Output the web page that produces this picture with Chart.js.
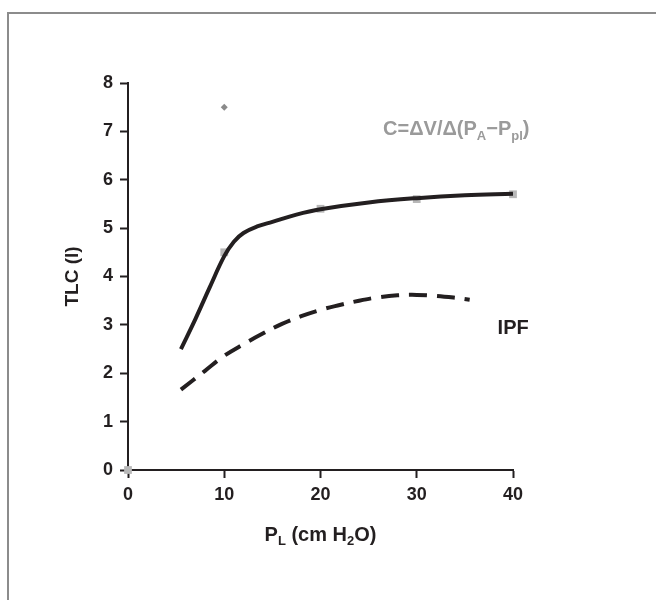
<!DOCTYPE html>
<html>
<head>
<meta charset="utf-8">
<script src="https://cdn.jsdelivr.net/npm/chart.js@4/dist/chart.umd.min.js"></script>
<style>
html,body{margin:0;padding:0;background:#fff;}
#wrap{position:relative;width:656px;height:600px;}
canvas{display:block;}
</style>
</head>
<body>
<div id="wrap"><canvas id="c" width="656" height="600"></canvas></div>
<script>
// ---- data ----
const xTicks = [0, 10, 20, 30, 40];
const yTicks = [0, 1, 2, 3, 4, 5, 6, 7, 8];
const normalX = [5.5, 7, 8.5, 10, 11, 12, 13.5, 15, 17.5, 20, 25, 30, 35, 40];
const normalY = [2.5, 3.12, 3.78, 4.42, 4.72, 4.9, 5.04, 5.13, 5.28, 5.39, 5.53, 5.62, 5.68, 5.71];
const ipfX = [5.5, 8, 10, 12, 14, 16, 18, 20, 22, 24, 26, 28, 30, 32, 34, 35.5];
const ipfY = [1.66, 2.05, 2.36, 2.6, 2.82, 3.02, 3.18, 3.31, 3.41, 3.5, 3.57, 3.61, 3.62, 3.6, 3.56, 3.52];
const measuredX = [0, 10, 20, 30, 40];
const measuredY = [0, 4.5, 5.4, 5.6, 5.7];
const outlierX = [10];
const outlierY = [7.5];

const toPts = (xs, ys) => xs.map((x, i) => ({x: x, y: ys[i]}));

const INK = '#231f20';
const FONT = '"Liberation Sans", Arial, Helvetica, sans-serif';

function drawRich(ctx, segs, x, y, size, align) {
  const fontFor = s => 'bold ' + (s[1] ? Math.round(size * 0.65) : size) + 'px ' + FONT;
  let total = 0;
  segs.forEach(s => { ctx.font = fontFor(s); total += ctx.measureText(s[0]).width; });
  let cx = align === 'center' ? x - total / 2 : x;
  ctx.textAlign = 'left';
  ctx.textBaseline = 'alphabetic';
  segs.forEach(s => {
    ctx.font = fontFor(s);
    ctx.fillText(s[0], cx, y + (s[1] ? size * 0.22 : 0));
    cx += ctx.measureText(s[0]).width;
  });
}

const decor = {
  id: 'decor',
  beforeDraw(chart) {
    const ctx = chart.ctx;
    ctx.save();
    ctx.strokeStyle = '#8c8c8c';
    ctx.lineWidth = 2;
    ctx.beginPath();
    ctx.moveTo(8, 600);
    ctx.lineTo(8, 13);
    ctx.lineTo(656, 13);
    ctx.stroke();
    ctx.restore();
  },
  afterDraw(chart) {
    const ctx = chart.ctx;
    const xs = chart.scales.x, ys = chart.scales.y;
    ctx.save();
    ctx.fillStyle = '#9a9a9a';
    drawRich(ctx, [['C=ΔV/Δ(P'], ['A', 1], ['−P'], ['pl', 1], [')']],
      xs.getPixelForValue(26.5), ys.getPixelForValue(6.92), 20, 'left');
    ctx.fillStyle = INK;
    drawRich(ctx, [['IPF']], xs.getPixelForValue(38.4), ys.getPixelForValue(2.81), 20, 'left');
    drawRich(ctx, [['P'], ['L', 1], [' (cm H'], ['2', 1], ['O)']],
      (xs.left + xs.right) / 2, 541, 20, 'center');
    ctx.translate(78, (ys.top + ys.bottom) / 2);
    ctx.rotate(-Math.PI / 2);
    drawRich(ctx, [['TLC (l)']], 0, 0, 19, 'center');
    ctx.restore();
  }
};

new Chart(document.getElementById('c'), {
  type: 'scatter',
  data: {
    datasets: [
      {
        label: 'normal',
        data: toPts(normalX, normalY),
        showLine: true,
        borderColor: INK,
        borderWidth: 4,
        pointRadius: 0,
        tension: 0.4,
        fill: false,
        order: 1
      },
      {
        label: 'IPF',
        data: toPts(ipfX, ipfY),
        showLine: true,
        borderColor: INK,
        borderWidth: 4,
        borderDash: [18, 10],
        pointRadius: 0,
        tension: 0.4,
        fill: false,
        order: 1
      },
      {
        label: 'measured',
        data: toPts(measuredX, measuredY),
        showLine: false,
        pointStyle: 'rect',
        pointRadius: 5.5,
        backgroundColor: '#b8b8b8',
        borderWidth: 0,
        order: 2
      },
      {
        label: 'outlier',
        data: toPts(outlierX, outlierY),
        showLine: false,
        pointStyle: 'rectRot',
        pointRadius: 3.5,
        backgroundColor: '#8a8a8a',
        borderWidth: 0,
        order: 2
      }
    ]
  },
  options: {
    responsive: false,
    animation: false,
    events: [],
    clip: false,
    layout: { padding: { left: 0, right: 143, top: 83, bottom: 90 } },
    plugins: { legend: { display: false }, tooltip: { enabled: false } },
    scales: {
      x: {
        type: 'linear', min: 0, max: 40,
        afterBuildTicks: s => { s.ticks = xTicks.map(v => ({value: v})); },
        afterFit: s => { s.height = 40; },
        grid: { display: true, drawOnChartArea: false, drawTicks: true, tickLength: 8, tickColor: INK, tickWidth: 2, color: INK },
        border: { display: true, color: INK, width: 2 },
        ticks: { color: INK, font: { family: FONT, size: 18, weight: 'bold' }, padding: 6, maxRotation: 0 }
      },
      y: {
        type: 'linear', min: 0, max: 8,
        afterBuildTicks: s => { s.ticks = yTicks.map(v => ({value: v})); },
        afterFit: s => { s.width = 128; },
        grid: { display: true, drawOnChartArea: false, drawTicks: true, tickLength: 8, tickColor: INK, tickWidth: 2, color: INK },
        border: { display: true, color: INK, width: 2 },
        ticks: { color: INK, font: { family: FONT, size: 18, weight: 'bold' }, padding: 7 }
      }
    }
  },
  plugins: [decor]
});
</script>
</body>
</html>
